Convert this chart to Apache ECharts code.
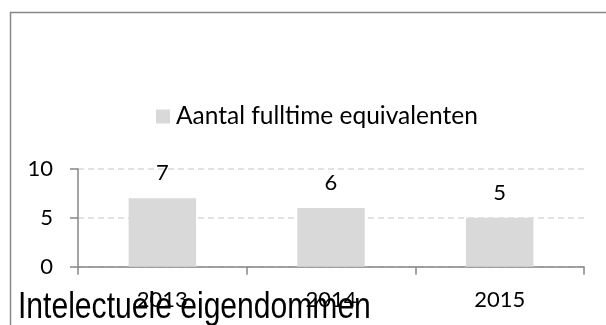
<!DOCTYPE html>
<html><head><meta charset="utf-8">
<script src="https://cdn.jsdelivr.net/npm/echarts@6/dist/echarts.min.js"></script>
<style>html,body{margin:0;padding:0;background:#fff}#c{width:606px;height:325px}</style>
</head><body><div id="c"></div>
<script>
const categories = ['2013', '2014', '2015'];
const values = [7, 6, 5];
const seriesName = 'Aantal fulltime equivalenten';
const titleText = 'Intelectuele eigendommen';
const yTicks = [0, 5, 10];

const chart = echarts.init(document.getElementById('c'), null, {renderer: 'canvas'});
const labelFont = 'Lato, "Open Sans", sans-serif';
chart.setOption({
  animation: false,
  graphic: [{
    type: 'rect', left: 8, top: 10,
    shape: {width: 620, height: 340},
    style: {fill: 'none', stroke: '#888', lineWidth: 1.5},
    silent: true, z: -1
  }, {
    type: 'text', x: 18, y: 289, scaleX: 0.813, scaleY: 1, originX: 0, originY: 0, z: 100,
    style: {text: titleText, font: '37px "Liberation Sans", Arial, sans-serif', fill: '#000', verticalAlign: 'top', align: 'left'},
    silent: true
  }],
  legend: {
    left: 151, top: 99, icon: 'rect', itemWidth: 14, itemHeight: 14, itemGap: 8,
    textStyle: {fontFamily: labelFont, fontSize: 24.5, color: '#000', padding: [0, 0, 0, 1]},
    data: [seriesName]
  },
  grid: {left: 78, right: 22, top: 169, bottom: 58.3, containLabel: false},
  xAxis: {
    type: 'category', data: categories,
    axisLine: {lineStyle: {color: '#868686', width: 1.5}},
    axisTick: {show: true, length: 8, lineStyle: {color: '#868686', width: 1.5}},
    axisLabel: {fontFamily: labelFont, fontSize: 22, color: '#000', margin: 22}
  },
  yAxis: {
    type: 'value', min: yTicks[0], max: yTicks[yTicks.length - 1], interval: yTicks[1] - yTicks[0],
    axisLine: {show: true, lineStyle: {color: '#868686', width: 1.5}},
    axisTick: {show: true, length: 8, lineStyle: {color: '#868686', width: 1.5}},
    axisLabel: {fontFamily: labelFont, fontSize: 22, color: '#000', margin: 25},
    splitLine: {show: true, lineStyle: {color: '#d9d9d9', type: [6, 4], width: 1.5}}
  },
  series: [{
    name: seriesName, type: 'bar', data: values, barWidth: '40%',
    itemStyle: {color: '#d9d9d9'},
    label: {show: true, position: 'top', distance: 14, fontFamily: labelFont, fontSize: 22, color: '#000'}
  }]
});
</script></body></html>
